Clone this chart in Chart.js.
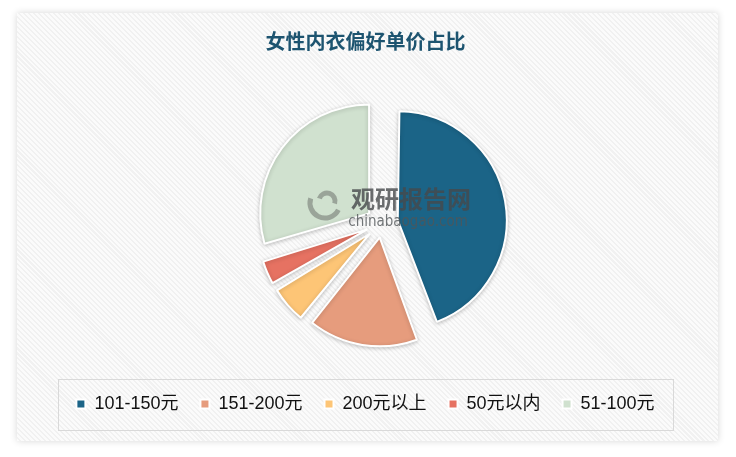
<!DOCTYPE html>
<html>
<head>
<meta charset="utf-8">
<script src="https://cdn.jsdelivr.net/npm/chart.js@4/dist/chart.umd.min.js"></script>
<style>
  html, body { margin: 0; padding: 0; background: #ffffff; }
  #wrap { position: relative; width: 736px; height: 457px; overflow: hidden; }
  #card {
    position: absolute; left: 17px; top: 13px; width: 701px; height: 428px;
    background: repeating-linear-gradient(45deg, #fbfbfb 0px, #fbfbfb 2px, #f1f1f1 2px, #f1f1f1 3.5px);
    box-shadow: 0 0 7px rgba(0,0,0,0.16);
  }
  #c { position: absolute; left: 0; top: 0; }
</style>
</head>
<body>
<div id="wrap">
  <div id="card"></div>
  <canvas id="c" width="736" height="457"></canvas>
</div>
<script>
// ---- data ----
const categories = ['101-150元', '151-200元', '200元以上', '50元以内', '51-100元'];
const shares = [44.4, 16.3, 5.8, 4.0, 29.5];
const sliceColors = ['#1b6487', '#e69c7d', '#fdc576', '#e67262', '#d0e1cf'];
const titleText = '女性内衣偏好单价占比';
const watermarkMain = '观研报告网';
const watermarkSub = 'chinabaogao.com';

// shift the pie centre to the right a little, as in the original
const pieShift = {
  id: 'pieShift',
  afterLayout(chart) {
    chart.chartArea.left += 16.5;
    chart.chartArea.right += 16.5;
  }
};

// Chart.js enlarges the radius of offset arcs; keep every exploded slice at the same radius
const evenRadius = {
  id: 'evenRadius',
  afterDatasetUpdate(chart, args) {
    const meta = chart.getDatasetMeta(args.index);
    meta.data.forEach(arc => {
      const off = ((arc.options && arc.options.offset) || 0) / 4;
      const fix = 1 - Math.sin(Math.min(Math.PI, arc.circumference || 0));
      arc.outerRadius = Math.max(arc.outerRadius - off * fix, 0);
    });
  }
};

// soft shadow round the slices
const sliceShadow = {
  id: 'sliceShadow',
  beforeDatasetsDraw(chart) {
    const ctx = chart.ctx;
    ctx.save();
    ctx.shadowColor = 'rgba(0,0,0,0.22)';
    ctx.shadowBlur = 4;
    ctx.shadowOffsetX = 0;
    ctx.shadowOffsetY = 1;
  },
  afterDatasetsDraw(chart) {
    chart.ctx.restore();
  }
};

// watermark
const watermark = {
  id: 'watermark',
  afterDatasetsDraw(chart) {
    const ctx = chart.ctx;
    const cx = (chart.chartArea.left + chart.chartArea.right) / 2;
    const cy = (chart.chartArea.top + chart.chartArea.bottom) / 2;
    ctx.save();
    ctx.strokeStyle = 'rgba(110,115,110,0.55)';
    ctx.lineWidth = 5;
    ctx.beginPath();
    ctx.arc(cx - 57, cy - 20, 15, Math.PI * 0.15, Math.PI * 1.1);
    ctx.stroke();
    ctx.beginPath();
    ctx.arc(cx - 55, cy - 22, 8, Math.PI * 1.1, Math.PI * 2.1);
    ctx.stroke();
    ctx.fillStyle = 'rgba(70,73,75,0.8)';
    ctx.textAlign = 'center';
    ctx.textBaseline = 'middle';
    ctx.font = 'bold 24px "Noto Sans CJK SC", sans-serif';
    ctx.fillText(watermarkMain, cx + 29, cy - 24);
    ctx.font = '15px "DejaVu Sans Condensed", "Liberation Sans", sans-serif';
    ctx.fillStyle = 'rgba(80,85,88,0.8)';
    ctx.fillText(watermarkSub, cx + 26, cy - 1);
    ctx.restore();
  }
};

// border round the legend
const legendFrame = {
  id: 'legendFrame',
  afterDraw(chart) {
    const lg = chart.legend;
    if (!lg || !lg.legendHitBoxes || !lg.legendHitBoxes.length) return;
    const hb = lg.legendHitBoxes;
    const first = hb[0], last = hb[hb.length - 1];
    const cyy = first.top + first.height / 2;
    const ctx = chart.ctx;
    ctx.save();
    ctx.strokeStyle = '#d9d9d9';
    ctx.lineWidth = 1;
    const l = Math.round(first.left - 18) + 0.5;
    const r = Math.round(last.left + last.width + 18) + 0.5;
    const t = Math.round(cyy - 25.5) + 0.5;
    const b = Math.round(cyy + 25.5) + 0.5;
    ctx.strokeRect(l, t, r - l, b - t);
    ctx.restore();
  }
};

new Chart(document.getElementById('c'), {
  type: 'pie',
  data: {
    labels: categories,
    datasets: [{
      data: shares,
      backgroundColor: sliceColors,
      borderColor: '#ffffff',
      borderWidth: 2,
      offset: [64, 58, 64, 64, 64],
      radius: 109
    }]
  },
  options: {
    responsive: false,
    animation: false,
    devicePixelRatio: 1,
    layout: { padding: { top: 0, bottom: 34, left: 0, right: 5 } },
    plugins: {
      title: {
        display: true,
        text: titleText,
        color: '#1d5470',
        font: { size: 20, weight: 'bold', family: '"Noto Sans CJK SC", sans-serif', lineHeight: 1.2 },
        padding: { top: 29, bottom: 20 }
      },
      legend: {
        display: true,
        position: 'bottom',
        labels: {
          boxWidth: 9,
          boxHeight: 9,
          padding: 22,
          color: '#111111',
          font: { size: 18, family: '"Liberation Sans", "Noto Sans CJK SC", sans-serif' }
        }
      },
      tooltip: { enabled: false }
    }
  },
  plugins: [pieShift, evenRadius, sliceShadow, watermark, legendFrame]
});
</script>
</body>
</html>
